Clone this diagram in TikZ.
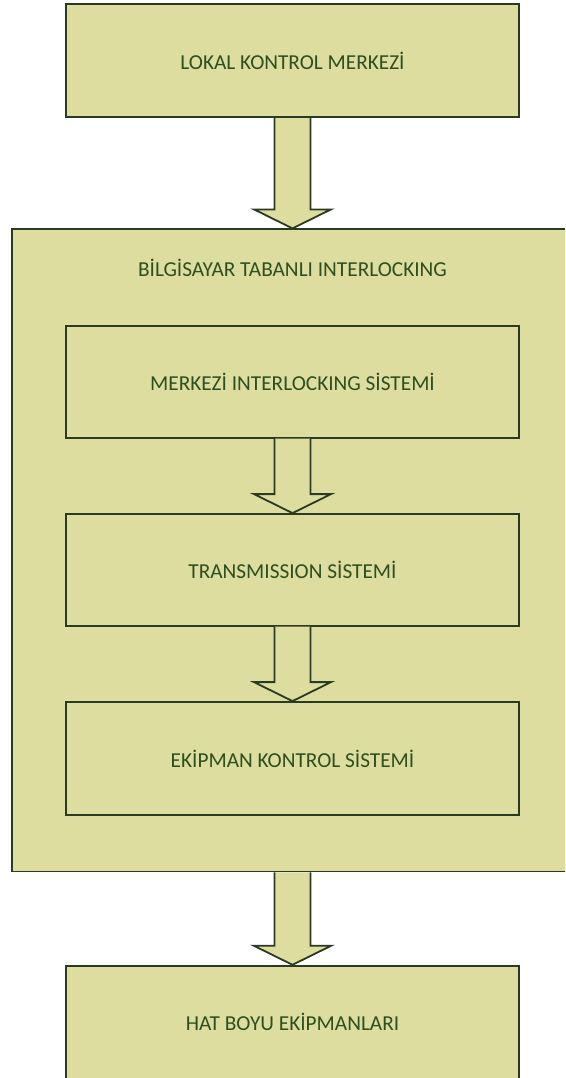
\documentclass[tikz,border=0pt]{standalone}
\usepackage{fontspec}
\setmainfont{Carlito}
\usetikzlibrary{calc}
\definecolor{boxfill}{HTML}{DDDDA0}
\definecolor{boxline}{HTML}{2B3A22}
\definecolor{boxtext}{HTML}{2E4F1F}
\tikzset{
  block/.style={draw=boxline, fill=boxfill, line width=1.8pt, rectangle,
    minimum width=453.6pt, inner sep=0pt, text=boxtext,
    font=\fontsize{21.3}{25}\selectfont},
  caption/.style={text=boxtext, inner sep=0pt, font=\fontsize{21.3}{25}\selectfont},
  flowarrow/.style={draw=boxline, fill=boxfill, line width=1.8pt, line join=miter}
}
% block arrow from the bottom of one box to the top of the next
\newcommand{\blockarrow}[2]{%
  \filldraw[flowarrow]
    ($(#1.south)+(-18,0)$) -- ($(#2.north)+(-18,19)$) -- ($(#2.north)+(-38.5,19)$)
    -- (#2.north) -- ($(#2.north)+(38.5,19)$) -- ($(#2.north)+(18,19)$)
    -- ($(#1.south)+(18,0)$);
}
\begin{document}
\begin{tikzpicture}[x=1pt,y=1pt]
  \useasboundingbox (0,0) rectangle (565,-1078);
  \clip (0,0) rectangle (565,-1078);

  \node[block, minimum height=113.3pt] (lokal) at (292.5,-60.7) {LOKAL KONTROL MERKEZİ};

  % outer system frame
  \node[block, minimum width=561.6pt, minimum height=642.2pt] (cbi) at (292.5,-550.4) {};
  \node[caption] (cbititle) at (292.5,-268) {BİLGİSAYAR TABANLI INTERLOCKING};

  \node[block, minimum height=111.7pt] (merkezi) at (292.5,-381.85) {MERKEZİ INTERLOCKING SİSTEMİ};
  \node[block, minimum height=111.8pt] (trans) at (292.5,-569.9) {TRANSMISSION SİSTEMİ};
  \node[block, minimum height=113.3pt] (ekip) at (292.5,-758.65) {EKİPMAN KONTROL SİSTEMİ};

  \node[block, minimum height=113.3pt] (hat) at (292.5,-1022.35) {HAT BOYU EKİPMANLARI};

  \blockarrow{lokal}{cbi}
  \blockarrow{merkezi}{trans}
  \blockarrow{trans}{ekip}
  \blockarrow{cbi}{hat}
\end{tikzpicture}
\end{document}
